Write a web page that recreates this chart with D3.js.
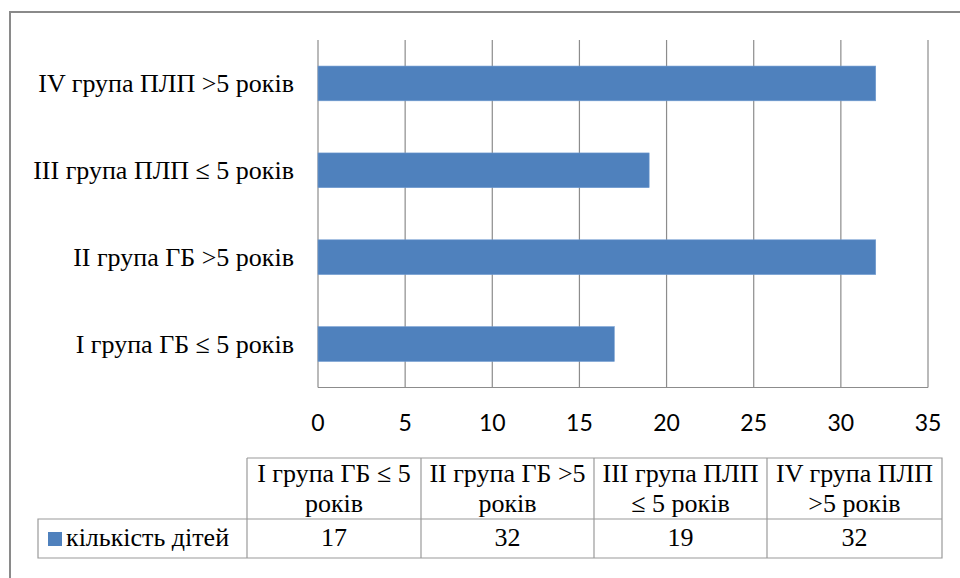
<!DOCTYPE html>
<html><head><meta charset="utf-8">
<script src="https://cdn.jsdelivr.net/npm/d3@7"></script>
</head><body style="margin:0"><svg id="c" width="960" height="578"></svg>
<script>
const categories = ["I група ГБ ≤ 5 років","II група ГБ >5 років","III група ПЛП ≤ 5 років","IV група ПЛП >5 років"];
const tableHeaders = [["I група ГБ ≤ 5","років"],["II група ГБ >5","років"],["III група ПЛП","≤ 5 років"],["IV група ПЛП",">5 років"]];
const seriesName = "кількість дітей";
const values = [17,32,19,32];
const xTicks = [0,5,10,15,20,25,30,35];

const svg = d3.select("#c");
const color = "#4f81bd", grid = "#8c8c8c";
const FS = 26;

svg.append("path").attr("d","M10,578 V12 H960").attr("fill","none").attr("stroke","#8a8a8a").attr("stroke-width",2);

const x = d3.scaleLinear().domain([0,35]).range([318,928]);
const y = d3.scaleBand().domain(categories.slice().reverse()).range([40,387.5]).paddingInner(0.6).paddingOuter(0.3);

svg.append("g").selectAll("line").data(xTicks.slice(1)).join("line")
  .attr("x1",d=>x(d)).attr("x2",d=>x(d)).attr("y1",40).attr("y2",387.5)
  .attr("stroke",grid).attr("stroke-width",1.2);
svg.append("line").attr("x1",x(0)).attr("x2",x(0)).attr("y1",40).attr("y2",387.5).attr("stroke",grid).attr("stroke-width",1.2);
svg.append("line").attr("x1",x(0)).attr("x2",x(35)).attr("y1",387.5).attr("y2",387.5).attr("stroke",grid).attr("stroke-width",1.2);

svg.append("g").selectAll("rect").data(categories).join("rect")
  .attr("x",x(0)).attr("y",d=>y(d)).attr("height",y.bandwidth())
  .attr("width",(d,i)=>x(values[i])-x(0)).attr("fill",color)
  .attr("stroke","#6f9ad0").attr("stroke-width",0.6);

function serifText(sel){ return sel.attr("font-family","Liberation Serif").attr("font-size",FS).attr("fill","#000"); }

serifText(svg.append("g").selectAll("text").data(categories).join("text")
  .attr("x",294).attr("y",d=>y(d)+y.bandwidth()/2+9)
  .attr("text-anchor","end")).text(d=>d);

svg.append("g").selectAll("text").data(xTicks).join("text")
  .attr("x",d=>x(d)).attr("y",431).attr("text-anchor","middle")
  .attr("font-family","Lato").attr("font-size",23).attr("fill","#000").text(d=>d);

const colX = [247,421,594,767,942];
const tTop = 458, tMid = 519, tBot = 558, legLeft = 38;
const tg = svg.append("g").attr("stroke","#9a9a9a").attr("stroke-width",1.2).attr("fill","none");
tg.append("path").attr("d",`M${colX[0]},${tTop} H${colX[4]} V${tBot} H${legLeft} V${tMid} H${colX[4]}`);
colX.slice(0,4).forEach(cx=>tg.append("line").attr("x1",cx).attr("x2",cx).attr("y1",tTop).attr("y2",tBot));

const hd = svg.append("g");
tableHeaders.forEach((lines,i)=>{
  const cx=(colX[i]+colX[i+1])/2;
  lines.forEach((t,j)=>serifText(hd.append("text").attr("x",cx).attr("y",482+j*30)
    .attr("text-anchor","middle")).text(t));
});
serifText(svg.append("g").selectAll("text").data(values).join("text")
  .attr("x",(d,i)=>(colX[i]+colX[i+1])/2).attr("y",546)
  .attr("text-anchor","middle")).text(d=>d);
svg.append("rect").attr("x",48).attr("y",532).attr("width",14).attr("height",14).attr("fill",color);
serifText(svg.append("text").attr("x",66).attr("y",546)).text(seriesName);
</script></body></html>
